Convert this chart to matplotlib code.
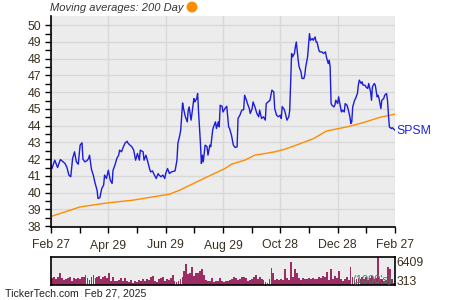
import matplotlib
matplotlib.use('Agg')
import matplotlib.pyplot as plt
from matplotlib.patches import Ellipse
import numpy as np

plt.rcParams['font.family'] = ['Liberation Sans', 'DejaVu Sans']

# days since Feb 27, 2024 and closing price of SPSM
price_day = [0, 1, 4, 7, 10, 15, 17, 19, 21, 23, 25, 27, 29, 31, 33, 34, 36, 38, 40, 41,
             43, 45, 47, 49, 50, 52, 54, 56, 57, 59, 61, 63, 65, 66, 68, 70, 72, 73, 75, 77,
             79, 81, 82, 84, 86, 88, 89, 90, 92, 94, 95, 98, 99, 101, 103, 105, 106, 108, 110, 112,
             114, 115, 117, 119, 121, 122, 124, 126, 128, 132, 134, 135, 137, 138, 140, 141, 143, 145, 146, 147,
             149, 150, 152, 153, 155, 156, 157, 158, 159, 160, 161, 162, 164, 166, 167, 169, 170, 172, 173, 175,
             176, 178, 179, 180, 182, 183, 185, 187, 189, 190, 192, 194, 196, 198, 199, 201, 203, 205, 206, 208,
             209, 211, 212, 214, 215, 217, 219, 221, 222, 224, 226, 228, 229, 231, 233, 235, 237, 238, 240, 242,
             244, 245, 246, 248, 249, 251, 253, 254, 256, 257, 259, 260, 261, 263, 264, 266, 267, 269, 270, 271,
             273, 274, 275, 276, 278, 279, 281, 282, 283, 285, 286, 288, 290, 292, 293, 295, 296, 297, 298, 299,
             301, 302, 303, 305, 306, 308, 309, 310, 312, 313, 315, 316, 318, 319, 320, 321, 323, 324, 326, 327,
             328, 330, 331, 332, 334, 335, 337, 338, 340, 341, 342, 344, 345, 347, 348, 349, 351, 352, 354, 355,
             357, 358, 359, 360, 362, 363, 365, 366]
price = [41.64, 41.44, 41.94, 41.50, 41.98, 41.74, 41.50, 41.05, 40.95, 42.04, 42.44, 41.84, 41.70, 42.84, 42.98, 42.00, 41.84, 41.90, 42.04, 42.24,
         41.40, 41.05, 40.55, 40.15, 39.65, 39.70, 40.25, 40.45, 41.05, 40.85, 41.34, 40.75, 40.55, 41.34, 41.64, 42.04, 42.24, 42.54, 42.44, 42.74,
         42.98, 43.07, 42.95, 42.84, 42.74, 42.54, 42.24, 41.94, 42.34, 41.94, 42.54, 42.44, 41.94, 42.24, 41.84, 41.40, 41.24, 41.30, 41.05, 40.85,
         41.14, 41.05, 40.95, 41.05, 40.85, 41.14, 41.44, 41.14, 41.24, 41.30, 41.94, 42.94, 43.43, 43.73, 45.36, 45.02, 44.53, 44.23, 44.93, 45.12,
         44.33, 44.73, 45.62, 45.42, 45.62, 45.92, 44.82, 43.93, 42.94, 41.74, 42.24, 41.84, 42.84, 42.74, 42.24, 42.84, 42.74, 43.73, 43.95, 44.23,
         43.83, 44.23, 43.93, 45.22, 45.16, 44.82, 45.02, 45.16, 43.93, 43.83, 43.43, 42.84, 42.70, 42.74, 44.43, 44.63, 44.93, 44.96, 45.82, 45.52,
         45.32, 45.02, 44.73, 45.02, 45.42, 45.12, 44.73, 44.53, 44.93, 44.43, 44.53, 44.33, 45.32, 45.42, 45.52, 46.12, 46.02, 45.02, 44.63, 44.53,
         44.63, 44.43, 45.14, 44.98, 44.82, 44.33, 44.53, 44.93, 48.31, 48.11, 48.31, 48.71, 49.00, 47.91, 47.51, 47.21, 46.82, 46.82, 47.01, 47.51,
         48.11, 48.81, 49.50, 49.10, 49.20, 49.10, 49.30, 49.00, 49.00, 48.51, 48.41, 48.41, 48.31, 48.41, 48.11, 47.71, 47.91, 47.51, 45.32, 45.22,
         45.12, 45.22, 45.52, 45.32, 45.72, 45.12, 44.82, 44.93, 44.82, 45.32, 45.22, 45.02, 44.53, 44.13, 44.23, 45.12, 45.52, 45.62, 45.92, 46.42,
         46.72, 46.52, 46.62, 46.42, 46.42, 46.32, 46.22, 46.52, 46.02, 45.52, 46.32, 46.52, 46.42, 45.72, 45.82, 45.62, 45.02, 45.52, 45.62, 45.82,
         45.92, 45.52, 44.67, 43.93, 43.83, 43.88, 43.78, 43.73]

# 200 day moving average
ma_day = [0, 31, 60, 87, 126, 137, 159, 185, 192, 206, 217, 228, 238, 248, 261, 279, 293, 315, 332, 350, 366]
ma200 = [38.58, 39.15, 39.39, 39.55, 39.91, 40.15, 40.75, 41.44, 41.70, 41.94, 42.24, 42.34, 42.44, 42.58, 42.84, 43.22,
         43.68, 43.93, 44.18, 44.50, 44.69]

# daily volume (1000's)
volume = [1583, 1885, 1357, 1734, 2639, 1583, 1131, 1357, 1583, 1734, 980, 1583, 1433, 1508, 1433, 1734, 1734, 2337, 1583, 1206,
          1734, 2337, 1583, 1734, 2111, 1357, 1734, 2111, 1583, 2865, 980, 1734, 829, 980, 1131, 1583, 829, 1583, 980, 603,
          1131, 528, 980, 679, 1206, 980,
          1357, 980, 1357, 1131, 1734, 1960, 980, 603, 1282, 1583, 1734, 980, 1357, 1131, 1583, 2262, 829, 603, 829, 1357,
          1734, 3242, 4750, 2488, 2865, 4147, 2111, 2639, 2865, 3242, 3619, 2337, 1131, 980, 980, 1583, 603, 980, 829, 1583,
          980, 603, 980, 980,
          1131, 1357, 1734, 1583, 1131, 1282, 1885, 1734, 1583, 980, 1131, 1282, 1734, 2337, 1357, 1885, 1357, 1131, 603, 377,
          1357, 3845, 2865, 1131, 1282, 1131, 1282, 1131, 3619, 1583, 1131, 5203, 1885, 3619, 2865, 1583, 1131, 1583, 1433, 1357,
          1583, 1357, 1583, 1357,
          1390, 1776, 1544, 2162, 1930, 2934, 1158, 3706, 1390, 2162, 1544, 3320, 1390, 1004, 1390, 1776, 1158, 4092, 1776, 1158,
          1390, 1544, 1390, 1776, 1390, 1776, 1158, 1544, 2162, 1390, 1544, 6409, 1390, 1390, 1004, 1235, 4092, 3706, 1390, 463]

tick_labels = ['Feb 27', 'Apr 29', 'Jun 29', 'Aug 29', 'Oct 28', 'Dec 28', 'Feb 27']
vol_max, vol_min = 6409, 313

txt = '#3b2f1e'
fig = plt.figure(figsize=(4.5, 3), dpi=100)

ax = fig.add_axes([51 / 450, 1 - 227 / 300, 344 / 450, 211 / 300])
ax.set_facecolor('#ececec')
ax.plot(ma_day, ma200, color='#ff8c00', lw=1.0)
ax.plot(price_day, price, color='#1c1cdc', lw=1.0)
ax.set_xlim(0, 366)
ax.set_ylim(37.95, 50.55)
ax.set_yticks(range(38, 51))
ax.set_yticks(np.arange(38.5, 50.5, 1), minor=True)
xt = np.linspace(0, 366, 7)
ax.set_xticks(xt)
ax.set_xticklabels(tick_labels)
ax.set_xticks((xt[:-1] + xt[1:]) / 2, minor=True)
ax.grid(True, which='major', color='#d8d8d8', lw=1)
for s in ['top', 'right']:
    ax.spines[s].set_visible(False)
for s in ['left', 'bottom']:
    ax.spines[s].set_linewidth(1.2)
ax.tick_params(which='both', direction='out', length=4, width=1, colors='black',
               labelcolor=txt, labelsize=8.8)
ax.tick_params(axis='y', pad=3)
ax.tick_params(axis='x', pad=5)
ax.text(1.005, (43.7 - 37.95) / (50.55 - 37.95), 'SPSM', transform=ax.transAxes,
        color='#2020e0', fontsize=8.8, va='center', ha='left')

fig.text(50 / 450, 1 - 8 / 300, 'Moving averages: 200 Day', fontsize=8, style='italic',
         color='#333333', va='center', ha='left')
fig.patches.append(Ellipse((192 / 450, 1 - 7 / 300), 9.5 / 450, 9.5 / 300, transform=fig.transFigure,
                           color='#ff8c00', figure=fig))

# volume panel
vx = fig.add_axes([51 / 450, 1 - 285 / 300, 344 / 450, 28.5 / 300])
vx.set_facecolor('#ececec')
vpos = np.linspace(1, 365, len(volume))
vx.bar(vpos, volume, width=366 / len(volume) * 0.95, color='#9b2d62', lw=0)
vx.set_xlim(0, 366)
vx.set_ylim(0, vol_max * 1.02)
vx.set_xticks([])
vx.set_yticks([])
for s in vx.spines.values():
    s.set_linewidth(1.2)
vx.text(1.005, 0.78, str(vol_max), transform=vx.transAxes, fontsize=8.8, color=txt,
        va='center', ha='left')
vx.text(1.005, 0.12, str(vol_min), transform=vx.transAxes, fontsize=8.8, color=txt,
        va='center', ha='left')
vx.text(0.99, 0.18, "(1000's)", transform=vx.transAxes, fontsize=8, color='#4e7d68',
        va='center', ha='right')

fig.text(5 / 450, 1 - 294 / 300, 'TickerTech.com  Feb 27, 2025', fontsize=7.6,
         color='#222222', va='center', ha='left')

fig.savefig('out.png', dpi=100)
